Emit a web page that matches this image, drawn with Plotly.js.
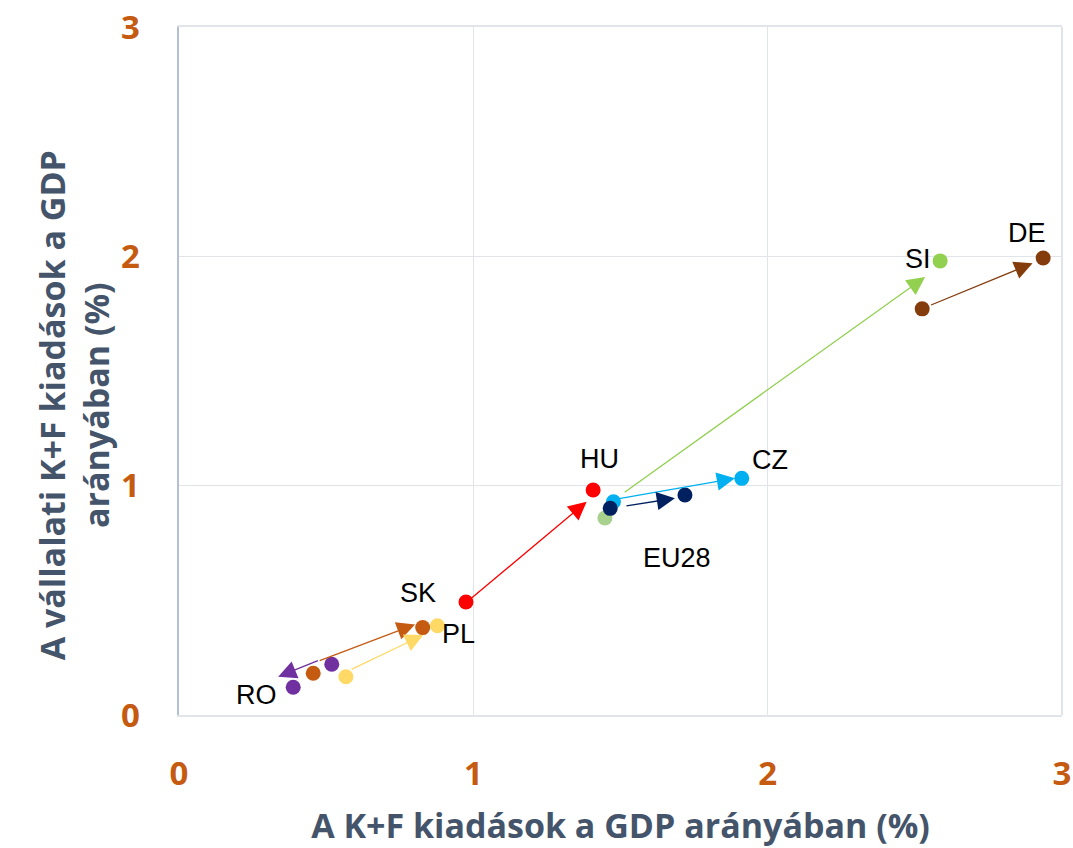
<!DOCTYPE html>
<html>
<head>
<meta charset="utf-8">
<script src="https://cdn.plot.ly/plotly-3.0.1.min.js"></script>
<style>html,body{margin:0;padding:0;background:#fff;}#chart{width:1073px;height:848px;}</style>
</head>
<body>
<div id="chart"></div>
<script>
// Countries
const countries = ["SI", "CZ", "EU28", "HU", "DE", "RO", "SK", "PL"];
// Earlier-year point (K+F / GDP %, corporate K+F / GDP %)
const startX = [1.447, 1.476, 1.465, 0.975, 2.525, 0.519, 0.456, 0.567];
const startY = [0.859, 0.930, 0.901, 0.493, 1.771, 0.221, 0.182, 0.167];
// Later-year point
const endX = [2.586, 1.912, 1.719, 1.407, 2.936, 0.388, 0.828, 0.878];
const endY = [1.980, 1.032, 0.959, 0.981, 1.993, 0.121, 0.381, 0.389];
// Arrow tails and tips
const arrowFromX = [1.509, 1.490, 1.515, 0.985, 2.550, 0.477, 0.473, 0.581];
const arrowFromY = [0.967, 0.942, 0.911, 0.500, 1.785, 0.240, 0.235, 0.196];
const arrowToX = [2.535, 1.889, 1.685, 1.385, 2.900, 0.337, 0.802, 0.830];
const arrowToY = [1.910, 1.032, 0.945, 0.930, 1.970, 0.167, 0.395, 0.349];
// Label positions
const labelX = [2.51, 2.008, 1.692, 1.427, 2.88, 0.262, 0.812, 0.951];
const labelY = [1.99, 1.112, 0.685, 1.116, 2.10, 0.087, 0.532, 0.353];
// Axis ticks
const tickVals = [0, 1, 2, 3];
const tickText = ["0", "1", "2", "3"];

const colors = {SI: "#92d050", CZ: "#00b0f0", EU28: "#002060", HU: "#ff0000", DE: "#843c0c", RO: "#7030a0", SK: "#c55a11", PL: "#ffd966"};
const startColors = {SI: "#a9d18e"};
const gridColor = "#e1e4e9";

const traces = countries.map((c, i) => ({
  type: "scatter", mode: "markers", name: c, showlegend: false,
  x: [startX[i], endX[i]], y: [startY[i], endY[i]],
  marker: {size: 15, color: [startColors[c] || colors[c], colors[c]]},
  hoverinfo: "x+y+name"
}));

const annotations = [];
countries.forEach((c, i) => {
  annotations.push({
    x: arrowToX[i], y: arrowToY[i], ax: arrowFromX[i], ay: arrowFromY[i],
    xref: "x", yref: "y", axref: "x", ayref: "y",
    showarrow: true, arrowhead: 2, arrowsize: 2.8, arrowwidth: 1.3,
    arrowcolor: colors[c], standoff: 0, startstandoff: 0, text: ""
  });
});
countries.forEach((c, i) => {
  annotations.push({
    x: labelX[i], y: labelY[i], xref: "x", yref: "y", showarrow: false,
    text: c, font: {family: "'Liberation Sans', Arial, sans-serif", size: 27, color: "#000"}
  });
});
const titleFont = {family: "'Open Sans', sans-serif", size: 34, color: "#44546a", weight: 700};
annotations.push({
  xref: "paper", yref: "paper", x: -0.119, y: 0.45, xanchor: "center", yanchor: "middle",
  showarrow: false, textangle: -90,
  text: "A vállalati K+F kiadások a GDP<br>arányában (%)",
  font: titleFont
});

const tickFont = {family: "'Open Sans', sans-serif", size: 33, color: "#c55a11", weight: 700};

const layout = {
  width: 1073, height: 848,
  margin: {l: 179, r: 11, t: 27, b: 133},
  paper_bgcolor: "#fff", plot_bgcolor: "#fff",
  showlegend: false,
  xaxis: {
    range: [0, 3], tickvals: tickVals, ticktext: tickText, tickfont: tickFont,
    showgrid: true, gridcolor: gridColor, gridwidth: 1.5,
    zeroline: false, showline: true, mirror: true, linecolor: gridColor, linewidth: 2,
    ticks: "", ticklabelstandoff: 28,
    title: {text: "A K+F kiadások a GDP arányában (%)", standoff: 30, font: titleFont}
  },
  yaxis: {
    range: [0, 3], tickvals: tickVals, ticktext: tickText, tickfont: tickFont,
    showgrid: true, gridcolor: gridColor, gridwidth: 1.5,
    zeroline: false,
    showline: true, linecolor: "#b4c0d2", linewidth: 2.5, ticks: "", ticklabelstandoff: 30
  },
  shapes: [{type: "line", xref: "paper", yref: "paper", x0: 1, x1: 1, y0: 0, y1: 1,
    line: {color: gridColor, width: 2}}],
  annotations: annotations
};

Plotly.newPlot("chart", traces, layout, {displayModeBar: false, staticPlot: true});
</script>
</body>
</html>
